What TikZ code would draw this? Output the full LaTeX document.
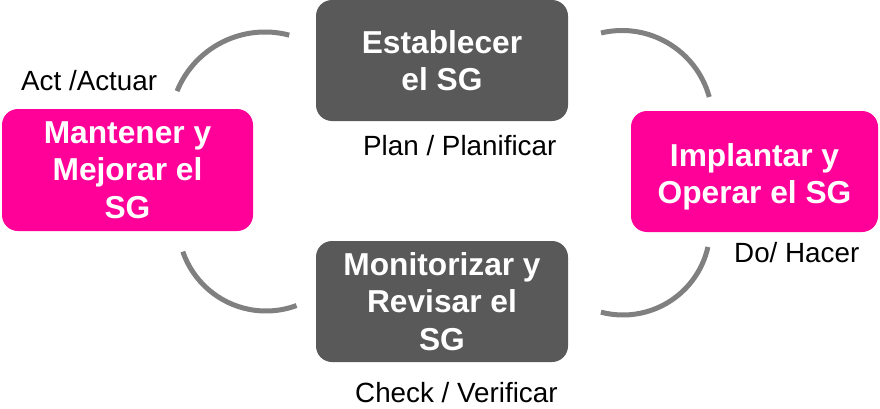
\documentclass[tikz,border=0pt]{standalone}
\usepackage{fontspec}
\setmainfont{Liberation Sans}
\definecolor{pinkbox}{RGB}{255,0,153}
\definecolor{graybox}{RGB}{89,89,89}
\definecolor{arcgray}{RGB}{128,128,128}
\begin{document}
\begin{tikzpicture}[x=1pt,y=1pt,
  box/.style={rounded corners=16pt, inner sep=0pt, text=white, align=center,
    font=\bfseries\fontsize{31.7}{37.5}\selectfont},
  pinkstyle/.style={box, fill=pinkbox},
  graystyle/.style={box, fill=graybox},
  arcline/.style={draw=arcgray, line width=5pt},
  lbl/.style={anchor=base west, inner sep=0pt, font=\fontsize{27.8}{32}\selectfont}]
\useasboundingbox (0,0) rectangle (880,408);
\node[pinkstyle, minimum width=251pt, minimum height=122pt] (act) at (127.5,238) {Mantener y\\Mejorar el\\SG};
\node[graystyle, minimum width=252pt, minimum height=121pt] (plan) at (442,347.5) {Establecer\\el SG};
\node[pinkstyle, minimum width=247pt, minimum height=121pt] (do) at (754.5,236.5) {\rule{0pt}{34pt}Implantar y\\Operar el SG};
\node[graystyle, minimum width=252pt, minimum height=121pt] (check) at (442,106.5) {Monitorizar y\\Revisar el\\SG};
\node[lbl] (lact) at (21,318) {Act /Actuar};
\node[lbl] (lplan) at (363,253) {Plan / Planificar};
\node[lbl] (ldo) at (734,146) {Do/ Hacer};
\node[lbl] (lcheck) at (355,6) {Check / Verificar};
\coordinate (c1) at (265,281);
\coordinate (c2) at (622,287);
\coordinate (c3) at (266,185);
\coordinate (c4) at (623,180);
\draw[arcline] (c1) ++(157.8:95pt) arc[start angle=157.8, end angle=75.2, radius=95pt];
\draw[arcline] (c2) ++(103.4:90.5pt) arc[start angle=103.4, end angle=15.4, radius=90.5pt];
\draw[arcline] (c3) ++(199:88pt) arc[start angle=199, end angle=290.3, radius=88pt];
\draw[arcline] (c4) ++(255.3:87pt) arc[start angle=255.3, end angle=347.4, radius=87pt];
\end{tikzpicture}
\end{document}
